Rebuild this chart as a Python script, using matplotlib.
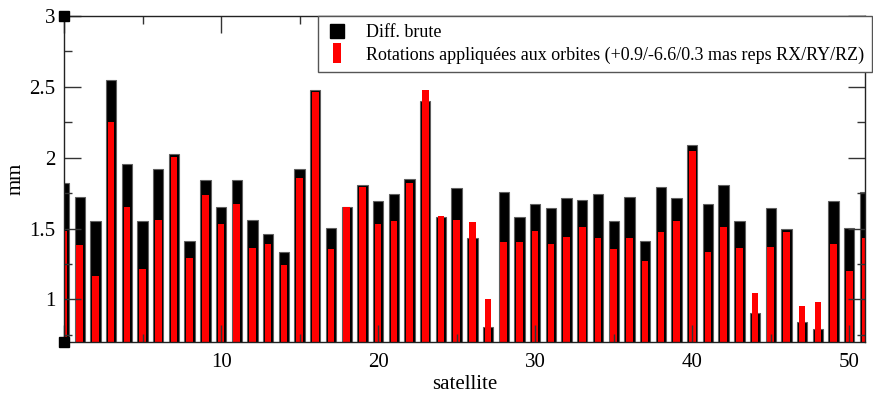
import matplotlib
matplotlib.use('Agg')
import matplotlib.pyplot as plt
from matplotlib.lines import Line2D
from matplotlib.ticker import MultipleLocator, FixedLocator
import numpy as np

plt.rcParams['font.family'] = ['Liberation Serif', 'DejaVu Serif']

# satellites 0..51
satellites = list(range(52))

# Diff. brute (mm)
diff_brute = [1.82, 1.72, 1.555, 2.549, 1.959, 1.555, 1.924, 2.029, 1.41, 1.841,
              1.65, 1.841, 1.559, 1.46, 1.333, 1.924, 2.48, 1.507, 1.65, 1.806,
              1.693, 1.742, 1.853, 2.403, 1.58, 1.789, 1.432, 0.804, 1.761, 1.58,
              1.672, 1.644, 1.714, 1.70, 1.742, 1.554, 1.72, 1.41, 1.792, 1.714,
              2.093, 1.672, 1.806, 1.554, 0.903, 1.644, 1.496, 0.842, 0.79, 1.693,
              1.503, 1.761]

# Rotations appliquées aux orbites (mm)
rotations = [1.48, 1.385, 1.166, 2.25, 1.65, 1.216, 1.56, 2.003, 1.293, 1.738,
             1.533, 1.672, 1.364, 1.392, 1.244, 1.855, 2.462, 1.357, 1.65, 1.792,
             1.533, 1.554, 1.822, 2.48, 1.592, 1.561, 1.545, 1.002, 1.404, 1.404,
             1.484, 1.392, 1.441, 1.51, 1.434, 1.357, 1.434, 1.272, 1.477, 1.554,
             2.046, 1.336, 1.51, 1.364, 1.044, 1.371, 1.477, 0.955, 0.983, 1.392,
             1.202, 1.434]

LABEL_BRUTE = "Diff. brute"
LABEL_ROT = "Rotations appliquées aux orbites (+0.9/-6.6/0.3 mas reps RX/RY/RZ)"

fig = plt.figure(figsize=(8.73, 3.99), dpi=100)
ax = fig.add_axes([64 / 873, 1 - 342 / 399, (865 - 64) / 873, (342 - 16) / 399])

ax.bar(satellites, diff_brute, width=0.66, color='black', edgecolor='#606060', linewidth=0.8, zorder=1)
ax.bar(satellites, rotations, width=0.42, color='#ff0000', edgecolor='none', zorder=1.2)

ax.set_xlim(0, 51)
ax.set_ylim(0.7, 3)

ax.xaxis.set_major_locator(FixedLocator([0, 10, 20, 30, 40, 50]))
ax.set_xticklabels(['', '10', '20', '30', '40', '50'])
ax.xaxis.set_minor_locator(MultipleLocator(5))
ax.yaxis.set_major_locator(FixedLocator([1, 1.5, 2, 2.5, 3]))
ax.set_yticklabels(['1', '1.5', '2', '2.5', '3'])
ax.yaxis.set_minor_locator(FixedLocator([0.75, 1.25, 1.75, 2.25, 2.75]))

ax.tick_params(which='both', direction='in', top=True, right=True, width=1, color='#333333')
ax.tick_params(which='major', length=12, labelsize=15)
ax.tick_params(which='minor', length=6)
ax.tick_params(axis='x', which='major', pad=8)
ax.tick_params(axis='y', which='major', pad=6)

for s in ax.spines.values():
    s.set_linewidth(1.0)
    s.set_color('#222222')

ax.set_xlabel('satellite', fontsize=15, labelpad=2)
ax.set_ylabel('mm', fontsize=15, labelpad=3)

# Grace-style corner squares
ax.plot([0, 0], [0, 1], 's', color='black', markersize=6.5, transform=ax.transAxes, clip_on=False, zorder=5)

red_marker = [(-0.4, -1), (0.4, -1), (0.4, 1), (-0.4, 1), (-0.4, -1)]
handles = [
    Line2D([], [], ls='none', marker='s', color='black', markersize=10),
    Line2D([], [], ls='none', marker=red_marker, color='#ff0000', markeredgewidth=0, markersize=14),
]
leg = ax.legend(handles, [LABEL_BRUTE, LABEL_ROT], loc='upper right',
                bbox_to_anchor=(872 / 873, 1 - 16 / 399), bbox_transform=fig.transFigure,
                fontsize=13.0, frameon=True, fancybox=False, framealpha=1,
                edgecolor='#555555', handlelength=1.2, handletextpad=1.0,
                borderpad=0.45, labelspacing=0.3, borderaxespad=0)
leg.get_frame().set_linewidth(1.0)
leg.set_zorder(10)

fig.savefig('out.png', dpi=100)
